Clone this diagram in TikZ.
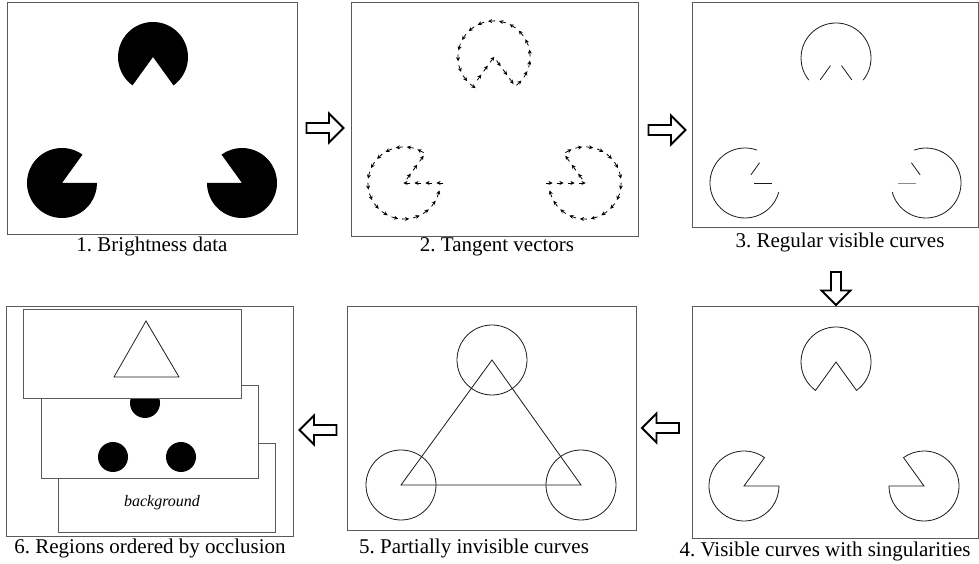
\documentclass[tikz,border=0pt]{standalone}
\usepackage{fontspec}
\setmainfont{Liberation Serif}
\usepackage{tikz}
\usetikzlibrary{positioning,shapes.arrows,arrows.meta,decorations.markings}
\definecolor{FrameGray}{HTML}{5A5A5A}
\definecolor{CurveInk}{HTML}{1A1A1A}
\frenchspacing

\begin{document}
\begin{tikzpicture}[x=1pt,y=1pt,>=stealth]
  \tikzstyle{panel}=[draw=FrameGray,line width=0.9pt,anchor=south west,inner sep=0pt]
  \tikzstyle{caption}=[anchor=base,inner sep=0pt,font=\fontsize{21}{24}\selectfont]
  \tikzstyle{curve}=[draw=CurveInk,line width=0.8pt]
  \tikzstyle{layer}=[draw=FrameGray,line width=0.8pt,fill=white,anchor=south west,inner sep=0pt]
  \tikzstyle{stagearrow}=[single arrow,draw,line width=1.8pt,fill=white,
    inner xsep=0pt,inner ysep=4.1pt,minimum width=0pt,
    minimum height=37pt,single arrow head extend=9.5pt,
    single arrow head indent=0pt]
  \tikzstyle{tangents}=[decoration={markings,
    mark=between positions 0.02 and 0.99 step 11pt with
    {\draw[-{Stealth[length=4.2pt,width=4pt]},line width=0.8pt] (-3.5pt,0) -- (3.5pt,0);}},
    postaction={decorate}]
  \useasboundingbox (0,0) rectangle (979,564);

  \node[panel,minimum width=290pt,minimum height=232pt] (p1) at (7,329) {};
  \node[panel,minimum width=287pt,minimum height=234pt] (p2) at (351,327) {};
  \node[panel,minimum width=286pt,minimum height=225pt] (p3) at (692,336) {};
  \node[panel,minimum width=286pt,minimum height=232pt] (p4) at (692,25) {};
  \node[panel,minimum width=289pt,minimum height=224pt] (p5) at (347,33) {};
  \node[panel,minimum width=287pt,minimum height=230pt] (p6) at (6,27) {};

  \node[caption] (c1) at (152,312) {1. Brightness data};
  \node[caption] (c2) at (497,312) {2. Tangent vectors};
  \node[caption] (c3) at (840,316) {3. Regular visible curves};
  \node[caption] (c4) at (825,7) {4. Visible curves with singularities};
  \node[caption] (c5) at (474,10) {5. Partially invisible curves};
  \node[caption] (c6) at (150,10) {6. Regions ordered by occlusion};

  \node[stagearrow] (a12) at (322.5,436) {};
  \node[stagearrow] (a23) at (664.5,434) {};
  \node[stagearrow,minimum height=33pt,rotate=-90] (a34) at (836,278) {};
  \node[stagearrow,shape border rotate=180] (a45) at (663,136) {};
  \node[stagearrow,shape border rotate=180] (a56) at (320.5,134) {};

  \coordinate (l1) at (62,381);  \coordinate (r1) at (242,381);  \coordinate (t1) at (153,507);
  \coordinate (l2) at (404,381); \coordinate (r2) at (585,381);  \coordinate (t2) at (494,507);
  \coordinate (l3) at (745,381); \coordinate (r3) at (926,381);  \coordinate (t3) at (836,506);
  \coordinate (l4) at (744,78);  \coordinate (r4) at (924,78);   \coordinate (t4) at (836,202);
  \coordinate (l5) at (401,79);  \coordinate (r5) at (581,79);   \coordinate (t5) at (492,204);

  \fill ([shift={(54.2:35)}]l1) arc[start angle=54.2,end angle=360,radius=35] -- (l1) -- cycle;
  \fill ([shift={(180:35)}]r1) arc[start angle=180,end angle=485.8,radius=35] -- (r1) -- cycle;
  \fill ([shift={(-54.2:35)}]t1) arc[start angle=-54.2,end angle=234.2,radius=35] -- (t1) -- cycle;

  \path[tangents] ([shift={(54.2:36)}]l2) arc[start angle=54.2,end angle=360,radius=36] -- (l2) -- cycle;
  \path[tangents] ([shift={(125.8:36)}]r2) arc[start angle=125.8,end angle=-180,radius=36] -- (r2) -- cycle;
  \path[tangents] ([shift={(-54.2:36)}]t2) arc[start angle=-54.2,end angle=234.2,radius=36] -- (t2) -- cycle;

  \draw[curve] ([shift={(70:35)}]l3) arc[start angle=70,end angle=345,radius=35];
  \draw[curve] ([shift={(54.2:10)}]l3) -- ([shift={(54.2:25)}]l3);
  \draw[curve] ([shift={(0:9)}]l3) -- ([shift={(0:27)}]l3);
  \draw[curve] ([shift={(195:35)}]r3) arc[start angle=195,end angle=470,radius=35];
  \draw[curve] ([shift={(125.8:10)}]r3) -- ([shift={(125.8:25)}]r3);
  \draw[curve,draw=black!45] ([shift={(180:10)}]r3) -- ([shift={(180:28)}]r3);
  \draw[curve] ([shift={(-39:35)}]t3) arc[start angle=-39,end angle=219,radius=35];
  \draw[curve] ([shift={(-125.8:9.5)}]t3) -- ([shift={(-125.8:27)}]t3);
  \draw[curve] ([shift={(-54.2:9.5)}]t3) -- ([shift={(-54.2:27)}]t3);

  \draw[curve] ([shift={(54.2:35)}]l4) arc[start angle=54.2,end angle=360,radius=35] -- (l4) -- cycle;
  \draw[curve] ([shift={(180:35)}]r4) arc[start angle=180,end angle=485.8,radius=35] -- (r4) -- cycle;
  \draw[curve] ([shift={(-54.2:35)}]t4) arc[start angle=-54.2,end angle=234.2,radius=35] -- (t4) -- cycle;

  \draw[curve] (l5) circle[radius=35] (r5) circle[radius=35] (t5) circle[radius=35];
  \draw[curve] (l5) -- (r5) -- (t5) -- cycle;

  \node[layer,minimum width=217pt,minimum height=89pt] (back) at (58,31) {};
  \node[anchor=base,inner sep=0pt,font=\fontsize{16}{18}\selectfont\itshape] (bgtext) at (162,57) {background};
  \node[layer,minimum width=217pt,minimum height=93pt] (mid) at (41,85) {};
  \fill (145,161) circle[radius=15] (113,107) circle[radius=15] (181,107) circle[radius=15];
  \node[layer,minimum width=218pt,minimum height=89pt] (front) at (23,165) {};
  \draw[curve] (114,187) -- (179,187) -- (146,243) -- cycle;
\end{tikzpicture}
\end{document}
